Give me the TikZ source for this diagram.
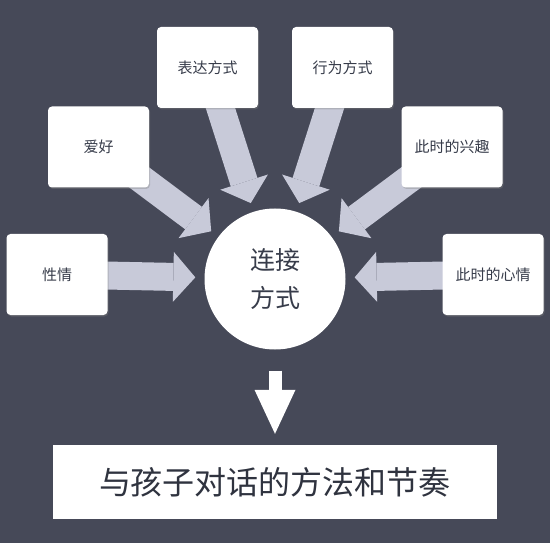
\documentclass[tikz,border=0pt]{standalone}
\usepackage{fontspec}
\newfontfamily\cjk{Noto Sans CJK SC}
\usetikzlibrary{arrows.meta,shadows}
\pgfdeclarelayer{back}
\pgfsetlayers{back,main}
\definecolor{board}{RGB}{70,73,88}
\definecolor{ink}{RGB}{55,60,74}
\definecolor{flowgray}{RGB}{200,202,217}

\begin{document}
\begin{tikzpicture}[x=1pt,y=-1pt]
    % Box width
    \newcommand{\boxw}{101pt}
    % Box height
    \newcommand{\boxh}{81pt}
    % Styles
    \tikzstyle{card}=[rectangle, rounded corners=4pt, fill=white, text=ink,
      minimum width=\boxw, minimum height=\boxh, inner sep=0,
      font=\cjk\fontsize{15}{18}\selectfont,
      drop shadow={opacity=0.35, shadow xshift=1pt, shadow yshift=-1.5pt}]
    \tikzstyle{hub}=[circle, fill=white, minimum size=141pt, inner sep=0,
      text=ink, align=center, font=\cjk\fontsize{25}{38}\selectfont]
    \tikzstyle{result}=[rectangle, fill=white, text=ink!85!black,
      minimum width=444pt, minimum height=74pt, inner sep=0,
      font=\cjk\fontsize{32}{36}\selectfont]
    \tikzstyle{feed}=[draw=flowgray, line width=28pt, shorten >=9pt,
      -{Triangle[length=22pt,width=50pt,line width=0pt]}]
    \tikzstyle{lead}=[draw=white, line width=13pt,
      shorten <=21pt, shorten >=11pt,
      -{Triangle[length=44pt,width=41pt,line width=0pt]}]

    % Board
    \useasboundingbox (0,0) rectangle (550,543);

    % Centre
    \node[hub] (link) at (275,279) {连接\\方式};

    % Boxes, left side
    \node[card] (temper) at (57,274.5) {性情};
    \node[card] (hobby) at (98.5,147) {爱好};
    \node[card] (speech) at (207.5,67.5) {表达方式};
    % Boxes, right side
    \node[card] (conduct) at (342.5,67.5) {行为方式};
    \node[card] (interest) at (452,147) {此时的兴趣};
    \node[card] (mood) at (493,274.5) {此时的心情};

    % Result
    \node[result] (goal) at (275,482) {与孩子对话的方法和节奏};

    \begin{pgfonlayer}{back}
      \fill[board] (0,0) rectangle (550,543);
      % Arrows to the centre
      \foreach \src in {temper,hobby,speech,conduct,interest,mood}
        {
          \draw[feed] (\src.center) -- (link);
        }
    \end{pgfonlayer}

    % Centre to result
    \draw[lead] (link) -- (goal);
  \end{tikzpicture}
\end{document}
